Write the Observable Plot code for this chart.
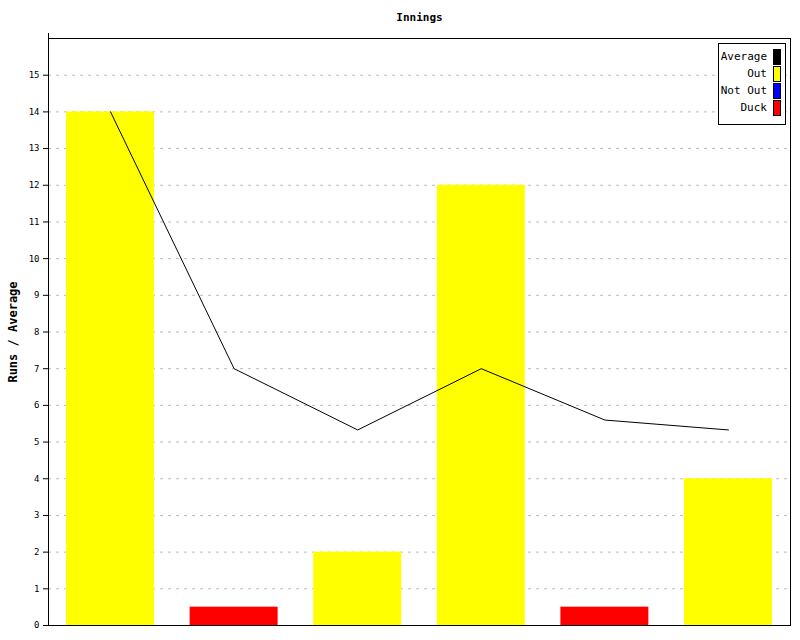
<!DOCTYPE html>
<html>
<head>
<meta charset="utf-8">
<script src="https://cdn.jsdelivr.net/npm/d3@7"></script>
<script src="https://cdn.jsdelivr.net/npm/@observablehq/plot@0.6"></script>
<style>
  body { margin: 0; background: #fff; }
  #wrap { position: relative; width: 800px; height: 640px; }
  #legend {
    position: absolute; left: 718px; top: 43px; width: 66px;
    border: 1px solid #000; background: #fff; color: #000;
    font: 11px "DejaVu Sans Mono", monospace; padding: 4px 0 8px 0;
  }
  #legend .row { display: flex; justify-content: flex-end; align-items: center; height: 17px; padding-right: 4px; color: #000; }
  #legend .sw { width: 6px; height: 14px; border: 1px solid #000; margin-left: 6px; }
</style>
</head>
<body>
<div id="wrap"></div>
<script>
// Innings in order, runs scored and how each innings ended
const innings = [1, 2, 3, 4, 5, 6];
const runs = [14, 0.5, 2, 12, 0.5, 4];
const outcome = ["Out", "Duck", "Out", "Out", "Duck", "Out"];
// Running batting average after each innings
const average = [14, 7, 5.33, 7, 5.6, 5.33];
const yTicks = [0, 1, 2, 3, 4, 5, 6, 7, 8, 9, 10, 11, 12, 13, 14, 15];
const seriesNames = ["Average", "Out", "Not Out", "Duck"];
const seriesColors = ["#000000", "#ffff00", "#0000ff", "#ff0000"];

const bars = innings.map((n, i) => ({inning: n, runs: runs[i], outcome: outcome[i]}));
const avgLine = innings.map((n, i) => ({inning: n, avg: average[i]}));

const font = "DejaVu Sans Mono, monospace";
const marginTop = 38, marginLeft = 48;

const chart = Plot.plot({
  width: 800,
  height: 640,
  marginLeft,
  marginRight: 10,
  marginTop,
  marginBottom: 15,
  style: {fontFamily: font, fontSize: "9px", background: "#fff", color: "#000"},
  x: {type: "band", domain: innings, paddingInner: 0.288, paddingOuter: 0.146, round: false, axis: null},
  y: {domain: [0, 16], axis: null},
  color: {domain: seriesNames, range: seriesColors},
  marks: [
    Plot.gridY(yTicks, {stroke: "#bbbbbb", strokeOpacity: 1, strokeDasharray: "3,5"}),
    Plot.barY(bars, {x: "inning", y: "runs", fill: "outcome"}),
    Plot.line(avgLine, {x: "inning", y: "avg", stroke: "#000", strokeWidth: 1}),
    Plot.frame({stroke: "#000", strokeWidth: 1}),
    Plot.axisY(yTicks, {tickSize: 5, tickPadding: 4, fontSize: 9, label: null}),
    Plot.text(["Innings"], {frameAnchor: "top", dy: -21, lineAnchor: "middle", fontWeight: "bold", fontSize: 11}),
    Plot.text(["Runs / Average"], {frameAnchor: "left", dx: -35, rotate: -90, textAnchor: "middle", lineAnchor: "middle", fontWeight: "bold", fontSize: 12})
  ]
});

// extend the left spine slightly above the top edge of the frame
d3.select(chart).append("line")
  .attr("x1", marginLeft + 0.5).attr("x2", marginLeft + 0.5)
  .attr("y1", marginTop - 5).attr("y2", marginTop)
  .attr("stroke", "#000");

const wrap = document.getElementById("wrap");
wrap.appendChild(chart);

const legend = document.createElement("div");
legend.id = "legend";
seriesNames.forEach((name, i) => {
  const row = document.createElement("div");
  row.className = "row";
  const label = document.createElement("span");
  label.textContent = name;
  const sw = document.createElement("span");
  sw.className = "sw";
  sw.style.background = seriesColors[i];
  row.appendChild(label);
  row.appendChild(sw);
  legend.appendChild(row);
});
wrap.appendChild(legend);
</script>
</body>
</html>
